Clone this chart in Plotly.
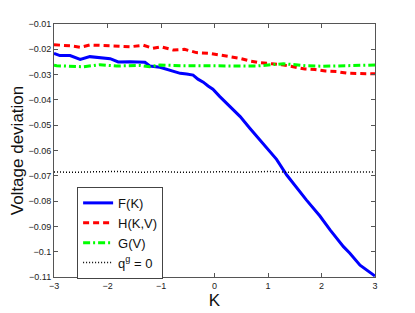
import plotly.graph_objects as go

# ---- data ----
F_K = [-3.0, -2.89, -2.7, -2.51, -2.33, -2.14, -1.95, -1.8, -1.58, -1.3, -1.21, -1.02,
       -0.83, -0.64, -0.52, -0.4, -0.31, -0.21, -0.12, -0.03, 0.1, 0.29, 0.48, 0.66,
       0.85, 1.04, 1.16, 1.35, 1.54, 1.72, 1.97, 2.16, 2.41, 2.53, 2.72, 3.0]
F_vals = [-0.0216, -0.0225, -0.0225, -0.0240, -0.0229, -0.0233, -0.0237, -0.0250, -0.0249,
          -0.0251, -0.0266, -0.0271, -0.0282, -0.0295, -0.0298, -0.0302, -0.0318, -0.0330,
          -0.0345, -0.0358, -0.0387, -0.0427, -0.0466, -0.0512, -0.0558, -0.0605, -0.0635,
          -0.0697, -0.0749, -0.0796, -0.0859, -0.0914, -0.0980, -0.1006, -0.1053, -0.1096]

H_K = [-3.0, -2.7, -2.51, -2.33, -1.95, -1.58, -1.33, -1.15, -1.0, -0.77, -0.56, -0.34,
       -0.09, 0.04, 0.25, 0.48, 0.66, 0.85, 1.07, 1.26, 1.47, 1.69, 1.88, 2.07, 2.28,
       2.5, 2.72, 3.0]
H_vals = [-0.0182, -0.0186, -0.0192, -0.0183, -0.0186, -0.0190, -0.0184, -0.0196, -0.0190,
          -0.0203, -0.0200, -0.0213, -0.0216, -0.0220, -0.0226, -0.0236, -0.0246, -0.0253,
          -0.0257, -0.0261, -0.0269, -0.0278, -0.0280, -0.0286, -0.0288, -0.0295, -0.0296,
          -0.0297]

G_K = [-3.0, -2.95, -2.45, -2.14, -1.83, -1.39, -1.21, -1.02, -0.6, -0.15, 0.3, 0.79,
       1.29, 1.72, 2.03, 2.53, 2.97, 3.0]
G_vals = [-0.0263, -0.0265, -0.0269, -0.0261, -0.0266, -0.0264, -0.0269, -0.0262, -0.0265,
          -0.0265, -0.0264, -0.0266, -0.0257, -0.0265, -0.0267, -0.0265, -0.0262, -0.0262]

Q_K = [-3.0, -2.6, -2.2, -1.8, -1.4, -1.0, -0.6, -0.2, 0.2, 0.6, 1.0, 1.4, 1.8, 2.2, 2.6, 3.0]
Q_vals = [-0.0685, -0.0686, -0.0684, -0.0683, -0.0686, -0.0684, -0.0686, -0.0685, -0.0684,
          -0.0686, -0.0683, -0.0686, -0.0685, -0.0686, -0.0684, -0.0685]

x_ticks = [-3, -2, -1, 0, 1, 2, 3]
x_tick_labels = ["\u22123", "\u22122", "\u22121", "0", "1", "2", "3"]
y_ticks = [-0.11, -0.10, -0.09, -0.08, -0.07, -0.06, -0.05, -0.04, -0.03, -0.02, -0.01]
y_tick_labels = ["\u22120.11", "\u22120.1", "\u22120.09", "\u22120.08", "\u22120.07", "\u22120.06",
                 "\u22120.05", "\u22120.04", "\u22120.03", "\u22120.02", "\u22120.01"]

fig = go.Figure()
fig.add_trace(go.Scatter(x=F_K, y=F_vals, mode="lines", name="F(K)",
                         line=dict(color="#0000ff", width=3)))
fig.add_trace(go.Scatter(x=H_K, y=H_vals, mode="lines", name="H(K,V)",
                         line=dict(color="#ff0000", width=3, dash="6px,4px")))
fig.add_trace(go.Scatter(x=G_K, y=G_vals, mode="lines", name="G(V)",
                         line=dict(color="#00ff00", width=3, dash="7px,3px,2px,3px")))
fig.add_trace(go.Scatter(x=Q_K, y=Q_vals, mode="lines", name="q<sup>g</sup> = 0",
                         line=dict(color="#000000", width=1.5, dash="1px,2px")))

axis_common = dict(showline=True, linecolor="#555555", linewidth=1, mirror="ticks",
                   ticks="inside", ticklen=4, tickcolor="#555555", showgrid=False,
                   zeroline=False, automargin=False,
                   tickfont=dict(family="Liberation Sans, Arial", size=9, color="#222"))

fig.update_xaxes(range=[-3, 3], tickvals=x_ticks, ticktext=x_tick_labels,
                 title=dict(text="K", font=dict(family="Liberation Sans, Arial", size=17, color="#111"),
                            standoff=4),
                 **axis_common)
fig.update_yaxes(range=[-0.11, -0.01], tickvals=y_ticks, ticktext=y_tick_labels,
                 title=dict(text="Voltage deviation",
                            font=dict(family="Liberation Sans, Arial", size=17, color="#111"),
                            standoff=4),
                 **axis_common)

# page body has an 8px default margin, so the figure is sized/offset to compensate
fig.update_layout(
    width=407, height=305,
    margin=dict(l=46, r=40, t=16, b=36),
    paper_bgcolor="white", plot_bgcolor="white",
    showlegend=True,
    legend=dict(x=0.072, y=0.356, xanchor="left", yanchor="top",
                bordercolor="#444444", borderwidth=1, bgcolor="white",
                font=dict(family="Liberation Sans, Arial", size=13, color="#111"),
                tracegroupgap=0, itemwidth=30),
)

fig.write_html("out.html")
